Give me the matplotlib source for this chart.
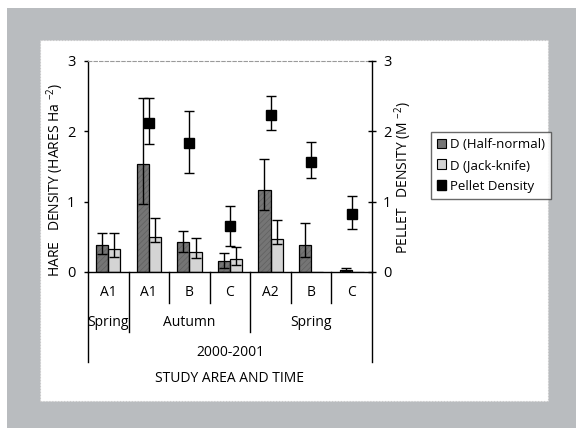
import numpy as np
import matplotlib
matplotlib.use("Agg")
import matplotlib.pyplot as plt
from matplotlib.patches import Rectangle, Patch

plt.rcParams['font.family'] = ['Open Sans', 'DejaVu Sans']
plt.rcParams['mathtext.default'] = 'regular'

# ---- data ----
categories = ['A1', 'A1', 'B', 'C', 'A2', 'B', 'C']
seasons = ['Spring', 'Autumn', 'Spring']
season_spans = [1, 3, 3]
year_label = '2000-2001'

hn = [0.39, 1.54, 0.42, 0.16, 1.17, 0.39, 0.03]
hn_low = [0.25, 0.96, 0.29, 0.05, 0.88, 0.21, 0.02]
hn_high = [0.55, 2.47, 0.58, 0.27, 1.60, 0.70, 0.05]

jk = [0.32, 0.50, 0.28, 0.18, 0.47, 0.0, 0.0]
jk_low = [0.21, 0.43, 0.20, 0.10, 0.40, 0.0, 0.0]
jk_high = [0.55, 0.77, 0.48, 0.36, 0.74, 0.0, 0.0]

pellet = [np.nan, 2.12, 1.84, 0.65, 2.23, 1.57, 0.83]
pellet_low = [np.nan, 1.82, 1.41, 0.37, 2.02, 1.34, 0.61]
pellet_high = [np.nan, 2.47, 2.29, 0.94, 2.50, 1.85, 1.08]

# ---- figure ----
fig = plt.figure(figsize=(5.76, 4.28), dpi=100, facecolor='white')
fig.patches.append(Rectangle((0.012, 0.0), 0.988, 0.981, transform=fig.transFigure,
                             facecolor='#b9bcbf', edgecolor='none', zorder=-10))
fig.patches.append(Rectangle((0.0694, 0.063), 0.8816, 0.8435, transform=fig.transFigure,
                             facecolor='white', edgecolor='#c8c8c8', linestyle=':',
                             linewidth=0.8, zorder=-9))

ax = fig.add_axes([0.1528, 0.3645, 0.493, 0.493])
ax.patch.set_alpha(0)
x = np.arange(len(categories))
w = 0.3

hn_arr = np.array(hn)
jk_arr = np.array(jk)
hn_err = [hn_arr - np.array(hn_low), np.array(hn_high) - hn_arr]
jk_err = [jk_arr - np.array(jk_low), np.array(jk_high) - jk_arr]

plt.rcParams['hatch.linewidth'] = 0.5
ax.bar(x - w / 2, hn, w, facecolor='#757575', edgecolor='#606060', hatch='//////',
       linewidth=0, zorder=2)
ax.bar(x - w / 2, hn, w, fill=False, edgecolor='black', linewidth=0.9, zorder=3)
ax.bar(x + w / 2, jk, w, facecolor='#d4d4d4', edgecolor='black', linewidth=0.9, zorder=2)

mask_jk = jk_arr > 0
ax.errorbar(x - w / 2, hn, yerr=hn_err, fmt='none', ecolor='black', elinewidth=1.0,
            capsize=3.5, capthick=1.0, zorder=4)
ax.errorbar((x + w / 2)[mask_jk], jk_arr[mask_jk],
            yerr=[e[mask_jk] for e in jk_err], fmt='none', ecolor='black',
            elinewidth=1.0, capsize=3.5, capthick=1.0, zorder=4)

ax.set_xlim(-0.5, len(categories) - 0.5)
ax.set_ylim(0, 3)
ax.set_yticks([0, 1, 2, 3])
ax.set_xticks([])
ax.tick_params(axis='y', direction='out', length=3, width=1, labelsize=10.5, pad=6)
for s in ['left', 'bottom']:
    ax.spines[s].set_linewidth(1.0)
ax.spines['top'].set_linestyle((0, (3, 2)))
ax.spines['top'].set_color('#9a9a9a')
ax.spines['top'].set_linewidth(0.8)
ax.spines['right'].set_visible(False)

ax2 = ax.twinx()
ax2.set_ylim(0, 3)
ax2.set_yticks([0, 1, 2, 3])
ax2.tick_params(axis='y', direction='inout', length=6, width=1, labelsize=10.5, pad=5)
ax2.spines['right'].set_linewidth(1.0)
for s in ['top', 'left', 'bottom']:
    ax2.spines[s].set_visible(False)
pel = np.array(pellet)
pel_err = [pel - np.array(pellet_low), np.array(pellet_high) - pel]
ax2.errorbar(x, pellet, yerr=pel_err, fmt='s', color='black', markersize=7,
             elinewidth=1.0, capsize=3.5, capthick=1.0, zorder=5)

# ---- hierarchical x-axis ----
tr = ax.get_xaxis_transform()
bounds = np.arange(len(categories) + 1) - 0.5
season_edges = np.concatenate([[0], np.cumsum(season_spans)]) - 0.5
for b in bounds:
    if b == bounds[0] or b == bounds[-1]:
        y_end = -0.425
    elif np.any(np.isclose(season_edges, b)):
        y_end = -0.283
    else:
        y_end = -0.147
    ax.plot([b, b], [0, y_end], transform=tr, color='black', linewidth=1.0,
            clip_on=False)
for xi, c in zip(x, categories):
    ax.text(xi, -0.097, c, transform=tr, ha='center', va='center', fontsize=10)
for i, s in enumerate(seasons):
    cx = (season_edges[i] + season_edges[i + 1]) / 2
    ax.text(cx, -0.239, s, transform=tr, ha='center', va='center', fontsize=10)
ax.text(0.5, -0.381, year_label, transform=ax.transAxes, ha='center', va='center',
        fontsize=10)
ax.text(0.5, -0.504, 'STUDY AREA AND TIME', transform=ax.transAxes, ha='center',
        va='center', fontsize=10)

fig.text(0.0955, 0.579, 'HARE   DENSITY (HARES Ha $^{-2}$)', rotation=90,
         ha='center', va='center', fontsize=10)
fig.text(0.6997, 0.586, 'PELLET   DENSITY (M $^{-2}$)', rotation=90,
         ha='center', va='center', fontsize=10)

handles = [Patch(facecolor='#757575', edgecolor='black', linewidth=0.8),
           Patch(facecolor='#d4d4d4', edgecolor='black', linewidth=0.8),
           Patch(facecolor='black', edgecolor='black')]
labels = ['D (Half-normal)', 'D (Jack-knife)', 'Pellet Density']
fig.legend(handles, labels, loc='upper left', bbox_to_anchor=(0.748, 0.692),
           fontsize=9.5, frameon=True, fancybox=False, edgecolor='#444444',
           handlelength=0.7, handleheight=0.7, handletextpad=0.3,
           borderpad=0.45, labelspacing=0.6, borderaxespad=0)

fig.savefig('out.png', dpi=100, facecolor='white')
